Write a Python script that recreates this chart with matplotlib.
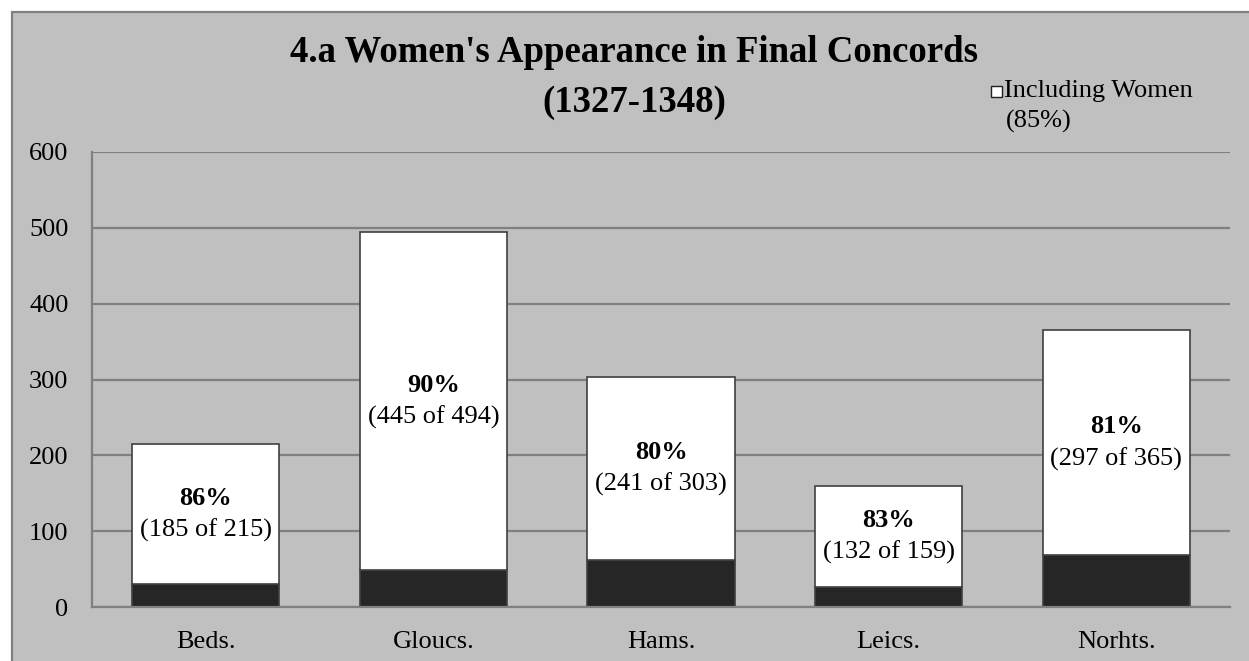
import matplotlib
matplotlib.use("Agg")
import matplotlib.pyplot as plt
from matplotlib.patches import Rectangle
import numpy as np

# ---- data ----
counties = ["Beds.", "Gloucs.", "Hams.", "Leics.", "Norhts."]
totals = [215, 494, 303, 159, 365]
including_women = [185, 445, 241, 132, 297]
percent_labels = ["86%", "90%", "80%", "83%", "81%"]
overall_percent = "85%"
yticks = [0, 100, 200, 300, 400, 500, 600]

without_women = [t - w for t, w in zip(totals, including_women)]

W, H = 1249, 661
DPI = 100
plt.rcParams['font.family'] = ['Liberation Serif', 'DejaVu Serif']

fig = plt.figure(figsize=(W / DPI, H / DPI), dpi=DPI, facecolor='white')

# outer chart frame
frame = Rectangle((12 / W, -0.05), 1.1, (H - 12) / H + 0.05, transform=fig.transFigure,
                  facecolor='#C0C0C0', edgecolor='#808080', linewidth=1.6, zorder=-10)
fig.patches.append(frame)

ax = fig.add_axes([92 / W, (H - 607) / H, (1230 - 92) / W, (607 - 152) / H], zorder=1)
ax.set_facecolor('none')

x = np.arange(len(counties))
bw = 0.646
ax.bar(x, without_women, width=bw, color='#262626', edgecolor='#404040', linewidth=1.2,
       zorder=3, label='Not Including Women')
ax.bar(x, including_women, width=bw, bottom=without_women, color='white',
       edgecolor='#404040', linewidth=1.2, zorder=3, label='Including Women')

ax.set_ylim(0, 600)
ax.set_xlim(-0.5, len(counties) - 0.5)
ax.set_yticks(yticks)
ax.set_yticklabels([str(v) for v in yticks], fontsize=19)
ax.set_xticks(x)
ax.set_xticklabels(counties, fontsize=19)
ax.tick_params(axis='y', length=0, pad=17)
ax.tick_params(axis='x', length=0, pad=17)
ax.yaxis.grid(True, color='#808080', linewidth=1.6, zorder=1)
ax.set_axisbelow(True)
for s in ['top', 'right']:
    ax.spines[s].set_visible(False)
for s in ['left', 'bottom']:
    ax.spines[s].set_color('#808080')
    ax.spines[s].set_linewidth(1.6)
    ax.spines[s].set_zorder(4)

# data labels centred in the white segment
for i in range(len(counties)):
    yc = without_women[i] + including_women[i] / 2
    ax.annotate(percent_labels[i], (x[i], yc), xytext=(0, 16), textcoords='offset pixels',
                ha='center', va='center', fontsize=19, fontweight='bold', zorder=5)
    ax.annotate(f"({including_women[i]} of {totals[i]})", (x[i], yc), xytext=(0, -16),
                textcoords='offset pixels', ha='center', va='center', fontsize=19, zorder=5)

# title
fig.text(634 / W, 1 - 52 / H, "4.a Women's Appearance in Final Concords",
         ha='center', va='center', fontsize=26.5, fontweight='bold')
fig.text(634 / W, 1 - 103 / H, "(1327-1348)",
         ha='center', va='center', fontsize=26.5, fontweight='bold')

# legend (manual)
sq = Rectangle((991 / W, 1 - 97 / H), 11 / W, 11 / H, transform=fig.transFigure,
               facecolor='white', edgecolor='#202020', linewidth=1.0)
fig.patches.append(sq)
fig.text(1004 / W, 1 - 91 / H, "Including Women", ha='left', va='center', fontsize=19)
fig.text(1006 / W, 1 - 121 / H, f"({overall_percent})", ha='left', va='center', fontsize=19)

fig.savefig("out.png", dpi=DPI, facecolor=fig.get_facecolor())
